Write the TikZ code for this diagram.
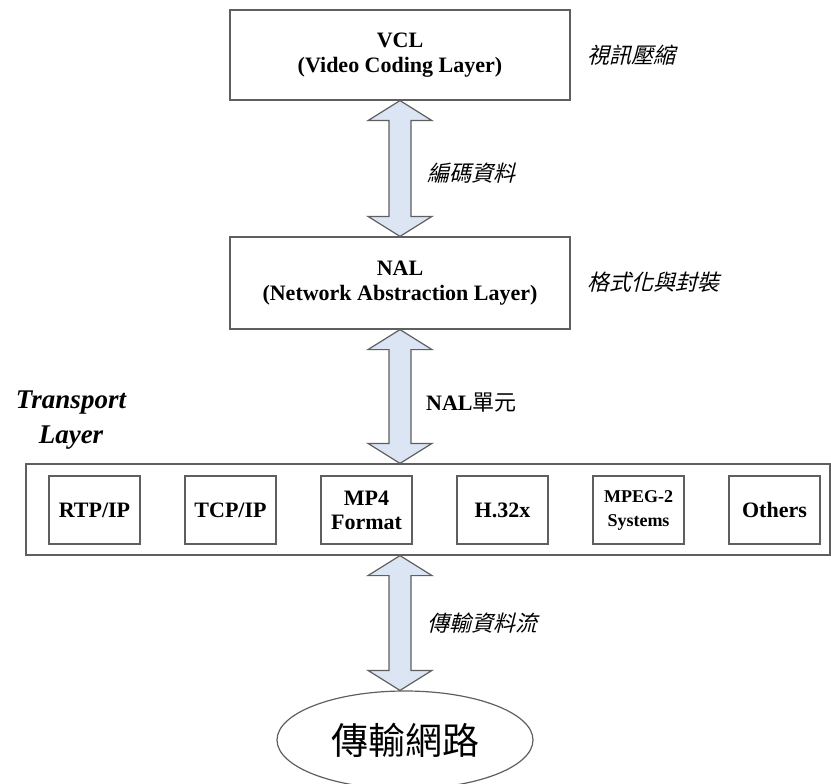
\documentclass[tikz,border=0pt]{standalone}
\usepackage{fontspec}
\setmainfont{Liberation Serif}
\newfontfamily\cjk{Noto Sans CJK TC}
\newfontfamily\cjkit[FakeSlant=0.25]{Noto Sans CJK TC}
\usetikzlibrary{shapes.geometric,calc}
\definecolor{pipe}{RGB}{220,229,243}
\definecolor{rim}{RGB}{95,95,95}

\begin{document}
\begin{tikzpicture}[x=1pt,y=-1pt,
  layer/.style={draw=rim,line width=1.2pt,minimum width=340pt,align=center,
    font=\fontsize{22}{25}\selectfont\bfseries},
  proto/.style={draw=rim,line width=1.2pt,minimum width=91pt,minimum height=68pt,
    align=center,inner sep=1pt},
  tag/.style={anchor=west,inner sep=0pt,font=\fontsize{22}{26}\selectfont\cjkit},
  flow/.style={fill=pipe,draw=rim,line width=1.2pt,line join=miter}]
\useasboundingbox (0,0) rectangle (831,784);
% double fleche entre deux points
\newcommand{\flowarrow}[2]{\draw[flow] let \p1=(#1), \p2=(#2) in
  (\x1,\y1) -- ++(32pt,-20pt) -- ++(-21pt,0pt) -- (\x1+11pt,\y2+20pt)
  -- ++(21pt,0pt) -- (\x1,\y2) -- ++(-32pt,20pt) -- ++(21pt,0pt)
  -- (\x1-11pt,\y1-20pt) -- ++(-21pt,0pt) -- cycle;}
% couches
\node[layer,minimum height=90pt] (vcl) at (400,55) {VCL\\(Video Coding Layer)};
\node[layer,minimum height=92pt] (nal) at (400,283) {NAL\\(Network Abstraction Layer)};
\node[draw=rim,line width=1.2pt,minimum width=804pt,minimum height=91pt] (trans) at (428,509.5) {};
\foreach \name/\txt/\fs [count=\i] in {rtp/{RTP/IP}/22,tcp/{TCP/IP}/22,mpfour/{MP4\\Format}/22,
    hdot/{H.32x}/22,mpeg/{MPEG-2\\Systems}/18,others/{Others}/22}
  \node[proto,font=\fontsize{\fs}{24}\selectfont\bfseries] (\name) at ({94.5+136*(\i-1)},510) {\txt};
\node[draw=rim,line width=1.2pt,ellipse,minimum width=256pt,minimum height=98pt,
  font=\fontsize{37}{40}\selectfont\cjk] (net) at (405,740) {傳輸網路};
\coordinate (tin) at (nal.south |- trans.north);
\coordinate (tout) at (nal.south |- trans.south);
% fleches
\flowarrow{vcl.south}{nal.north}
\flowarrow{nal.south}{tin}
\flowarrow{tout}{tout |- net.north}
% textes
\node[font=\fontsize{27}{35}\selectfont\bfseries\itshape,align=center] (tl) at (71,420) {Transport\\Layer};
\node[tag] (cmp) at (587,55) {視訊壓縮};
\node[tag] (enc) at (427,173) {編碼資料};
\node[tag] (fmt) at (587,282) {格式化與封裝};
\node[tag,font=\fontsize{22}{26}\selectfont] (unit) at (426,403) {{\bfseries NAL}{\cjk 單元}};
\node[tag] (strm) at (427,623) {傳輸資料流};
\end{tikzpicture}
\end{document}
